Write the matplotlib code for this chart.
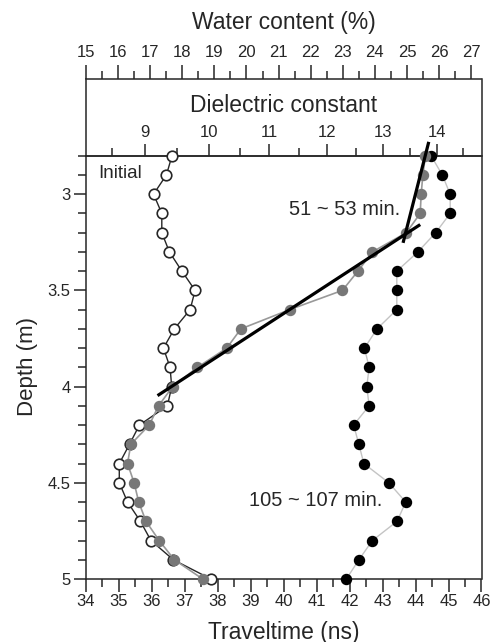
import numpy as np
import matplotlib

matplotlib.use("Agg")

import matplotlib.pyplot as plt
from matplotlib.ticker import MultipleLocator, FixedLocator, FuncFormatter

plt.rcParams["font.family"] = ["Liberation Sans", "DejaVu Sans"]

depth = [2.8, 2.9, 3.0, 3.1, 3.2, 3.3, 3.4, 3.5, 3.6, 3.7, 3.8, 3.9,
         4.0, 4.1, 4.2, 4.3, 4.4, 4.5, 4.6, 4.7, 4.8, 4.9, 5.0]

initial = [36.61, 36.44, 36.05, 36.30, 36.30, 36.53, 36.91, 37.31, 37.16, 36.68, 36.35, 36.55,
           36.60, 36.47, 35.62, 35.32, 35.01, 35.01, 35.26, 35.65, 35.97, 36.65, 37.79]

min_51_53 = [44.30, 44.22, 44.17, 44.14, 43.72, 42.69, 42.25, 41.78, 40.18, 38.70, 38.27, 37.38,
             36.63, 36.20, 35.92, 35.36, 35.26, 35.46, 35.60, 35.82, 36.22, 36.68, 37.54]

min_105_107 = [44.47, 44.81, 45.05, 45.05, 44.61, 44.07, 43.43, 43.43, 43.43, 42.83, 42.45, 42.59,
               42.52, 42.59, 42.12, 42.28, 42.43, 43.19, 43.70, 43.44, 42.69, 42.28, 41.90]

# fitted lines (traveltime, depth)
fit_long_t = [36.17, 44.14]
fit_long_d = [4.047, 3.158]
fit_short_t = [44.40, 43.62]
fit_short_d = [2.728, 3.253]

dielectric_major = [9, 10, 11, 12, 13, 14]
dielectric_minor = [8.5, 9.5, 10.5, 11.5, 12.5, 13.5, 14.5]

A = 11.93  # traveltime = A * sqrt(K)
INK = "#262626"


def t_to_k(t):
    return (np.asarray(t, dtype=float) / A) ** 2


def k_to_t(k):
    return A * np.sqrt(np.clip(np.asarray(k, dtype=float), 0, None))


fig = plt.figure(figsize=(4.96, 6.42), dpi=100)

L, W = 86 / 496, 395.5 / 496
ax = fig.add_axes([L, 63 / 642, W, 423.3 / 642])
box = fig.add_axes([L, 486.3 / 642, W, 76.7 / 642])

# data
ax.plot(min_105_107, depth, color="#c4c4c4", lw=1.0, zorder=2, clip_on=False)
ax.plot(min_105_107, depth, ls="none", marker="o", ms=7.2, mfc="black", mec="black",
        zorder=3, clip_on=False)
ax.plot(initial, depth, color=INK, lw=1.0, marker="o", ms=7.6, mfc="white",
        mec=INK, mew=1.2, zorder=4, clip_on=False)
ax.plot(min_51_53, depth, color="#999999", lw=1.2, marker="o", ms=7.2, mfc="#777777",
        mec="#777777", zorder=5, clip_on=False)
ax.plot(fit_long_t, fit_long_d, color="black", lw=2.3, zorder=6, clip_on=False,
        solid_capstyle="butt")
ax.plot(fit_short_t, fit_short_d, color="black", lw=2.3, zorder=6, clip_on=False,
        solid_capstyle="butt")

ax.text(34.36, 2.89, "Initial", fontsize=13.5, ha="left", va="center", color=INK)
ax.text(43.52, 3.08, "51 ~ 53 min.", fontsize=14.5, ha="right", va="center", color=INK)
ax.text(43.0, 4.59, "105 ~ 107 min.", fontsize=14.5, ha="right", va="center", color=INK)

ax.set_xlim(34, 46)
ax.set_ylim(5, 2.8)
ax.xaxis.set_major_locator(MultipleLocator(1))
ax.xaxis.set_minor_locator(MultipleLocator(0.5))
ax.yaxis.set_major_locator(MultipleLocator(0.5))
ax.yaxis.set_minor_locator(MultipleLocator(0.1))
ax.yaxis.set_major_formatter(FuncFormatter(lambda v, p: f"{v:g}"))
ax.tick_params(which="both", direction="out", top=False, right=False, width=1.1,
               colors=INK, labelsize=12)
ax.tick_params(which="major", length=9, pad=2)
ax.tick_params(which="minor", length=5.5)
for s in ax.spines.values():
    s.set_linewidth(1.1)
    s.set_color(INK)

# dielectric constant scale on top of the main axes
sec = ax.secondary_xaxis("top", functions=(t_to_k, k_to_t))
sec.xaxis.set_major_locator(FixedLocator(dielectric_major))
sec.xaxis.set_minor_locator(FixedLocator(dielectric_minor))
sec.tick_params(which="both", direction="out", width=1.1, colors=INK, labelsize=12)
sec.tick_params(which="major", length=9, pad=2)
sec.tick_params(which="minor", length=5.5)
sec.spines["top"].set_linewidth(1.1)
sec.spines["top"].set_color(INK)

# water content box
box.set_xlim(15, 15 + 395.5 / 32.1)
box.set_ylim(0, 1)
box.xaxis.tick_top()
box.xaxis.set_major_locator(MultipleLocator(1))
box.xaxis.set_minor_locator(MultipleLocator(0.5))
box.set_yticks([])
box.spines["bottom"].set_visible(False)
for s in box.spines.values():
    s.set_linewidth(1.1)
    s.set_color(INK)
box.tick_params(which="both", direction="out", width=1.1, colors=INK, labelsize=12,
                bottom=False)
box.tick_params(which="major", length=10, pad=4)
box.tick_params(which="minor", length=5.5)
box.patch.set_alpha(0)
box.text(0.5, 0.66, "Dielectric constant", transform=box.transAxes, fontsize=16.5,
         ha="center", va="center", color=INK)

fig.text(0.5 * (86 + 481.5) / 496, 1 - 23 / 642, "Water content (%)", fontsize=16.5,
         ha="center", va="center", color=INK)
fig.text(0.5 * (86 + 481.5) / 496, 1 - 632 / 642, "Traveltime (ns)", fontsize=16.5,
         ha="center", va="center", color=INK)
fig.text(28 / 496, 1 - 367 / 642, "Depth (m)", fontsize=16, rotation=90,
         ha="center", va="center", color=INK)

fig.savefig("out.png", dpi=100)
